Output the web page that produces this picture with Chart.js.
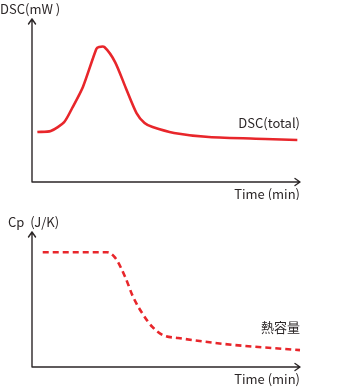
<!DOCTYPE html>
<html>
<head>
<meta charset="utf-8">
<script src="https://cdn.jsdelivr.net/npm/chart.js@4"></script>
<style>
  html, body { margin: 0; padding: 0; background: #fff; }
  #wrap { position: relative; width: 350px; height: 390px; }
  canvas { position: absolute; left: 0; }
  #dsc { top: 0; }
  #cp { top: 200px; }
</style>
</head>
<body>
<div id="wrap">
  <canvas id="dsc" width="350" height="200"></canvas>
  <canvas id="cp" width="350" height="190"></canvas>
</div>
<script>
// Heat-flow trace (DSC, total) against time
const dscTime = [2, 7, 12, 15, 19, 24, 25, 27, 31, 35, 39, 42, 45, 53, 66, 87, 99];
const dscValue = [30.7, 31.3, 36.8, 45.4, 58.3, 81.6, 82.8, 82.8, 73.6, 57.7, 42.3, 36.2, 33.7, 30.1, 27.6, 26.4, 25.8];

// Heat capacity trace against time
const cpTime = [4, 16, 28, 31, 34.7, 37.7, 41.4, 45, 49, 54.5, 72, 100];
const cpValue = [85, 85, 85, 81, 67, 52, 39, 29.5, 23.5, 21.5, 17, 12.5];

// Axis captions and series labels
const dscAxisTitle = 'DSC(mW )';
const cpAxisTitle = 'Cp  (J/K)';
const timeAxisTitle = 'Time (min)';
const dscSeriesLabel = 'DSC(total)';
const cpSeriesLabel = '熱容量';

const RED = '#e8262b';
const INK = '#2b2627';
const FONT = '"Noto Sans CJK JP", "Noto Sans", sans-serif';

function toPoints(xs, ys) {
  return xs.map((x, i) => ({ x, y: ys[i] }));
}

// Draws arrowed axes plus the captions around the plot area
function axesPlugin(opts) {
  return {
    id: 'arrowAxes',
    afterDatasetsDraw(chart) {
      const { ctx, chartArea: a } = chart;
      const x0 = a.left, y0 = a.bottom;
      const xEnd = a.right, yTop = a.top;
      ctx.save();
      ctx.strokeStyle = INK;
      ctx.lineWidth = 1.4;
      ctx.lineCap = 'round';
      ctx.lineJoin = 'round';
      ctx.beginPath();
      ctx.moveTo(x0, y0);
      ctx.lineTo(x0, yTop);
      ctx.moveTo(x0, y0);
      ctx.lineTo(xEnd, y0);
      // y arrowhead
      ctx.moveTo(x0 - 3.5, yTop + 5);
      ctx.lineTo(x0, yTop);
      ctx.lineTo(x0 + 3.5, yTop + 5);
      // x arrowhead
      ctx.moveTo(xEnd - 5, y0 - 3.5);
      ctx.lineTo(xEnd, y0);
      ctx.lineTo(xEnd - 5, y0 + 3.5);
      ctx.stroke();

      ctx.fillStyle = INK;
      ctx.textBaseline = 'alphabetic';
      ctx.font = '13px ' + FONT;
      ctx.textAlign = 'left';
      ctx.fillText(opts.yTitle, opts.yTitleX, opts.yTitleY);
      ctx.textAlign = 'right';
      ctx.fillText(timeAxisTitle, xEnd, opts.xTitleY);
      ctx.font = opts.labelFont + ' ' + FONT;
      ctx.fillText(opts.label, xEnd, opts.labelY);
      ctx.restore();
    }
  };
}

function makeChart(id, data, dashed, pad, opts) {
  return new Chart(document.getElementById(id), {
    type: 'line',
    data: {
      datasets: [{
        data,
        borderColor: RED,
        borderWidth: 2.6,
        borderDash: dashed ? [6, 4] : [],
        pointRadius: 0,
        fill: false,
        tension: dashed ? 0 : 0.25,
        cubicInterpolationMode: dashed ? 'monotone' : 'default',
        clip: 4
      }]
    },
    options: {
      responsive: false,
      animation: false,
      events: [],
      layout: { padding: pad },
      plugins: { legend: { display: false }, tooltip: { enabled: false } },
      scales: {
        x: { type: 'linear', min: 0, max: 100, display: false },
        y: { type: 'linear', min: 0, max: 100, display: false }
      }
    },
    plugins: [axesPlugin(opts)]
  });
}

makeChart('dsc', toPoints(dscTime, dscValue), false,
  { left: 32, right: 50, top: 19, bottom: 18 },
  { yTitle: dscAxisTitle, yTitleX: 0, yTitleY: 14, xTitleY: 199,
    label: dscSeriesLabel, labelY: 128, labelFont: '13px' });

makeChart('cp', toPoints(cpTime, cpValue), true,
  { left: 32, right: 50, top: 32, bottom: 23 },
  { yTitle: cpAxisTitle, yTitleX: 8, yTitleY: 27, xTitleY: 184,
    label: cpSeriesLabel, labelY: 132, labelFont: '13px' });
</script>
</body>
</html>
